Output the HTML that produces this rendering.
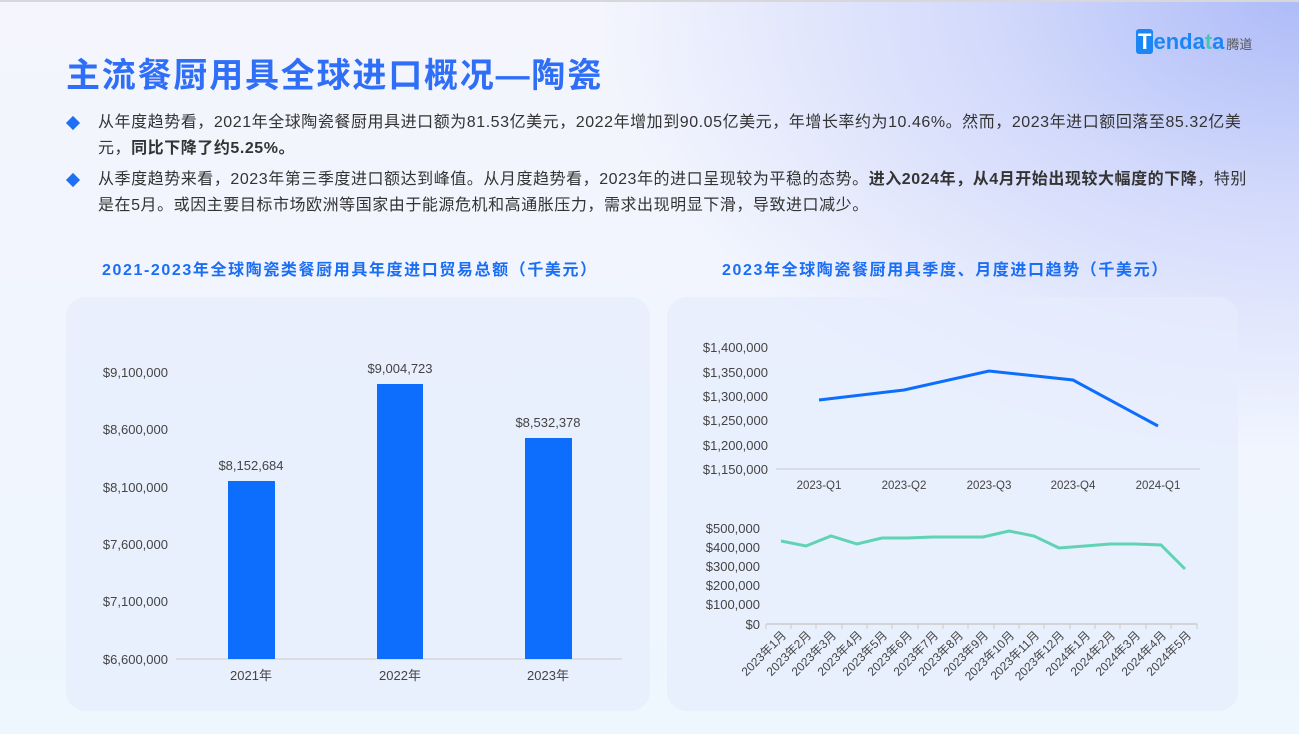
<!DOCTYPE html>
<html><head><meta charset="utf-8"><style>
body{margin:0;width:1299px;height:734px;overflow:hidden;font-family:"Liberation Sans","Noto Sans CJK SC",sans-serif;
background:radial-gradient(ellipse 700px 450px at 1299px 0,#aebcf8 0%,#d3dafb 45%,rgba(240,243,255,0) 100%),linear-gradient(180deg,#f4f5fd,#f0f5fe 60%,#eef7fd);position:relative}
.top{position:absolute;left:0;top:0;width:1299px;height:2px;background:#d8d8dc}
h1{position:absolute;left:66px;top:48px;margin:0;font-size:34px;color:#2f6ef6;font-weight:bold;letter-spacing:1.8px}
.p{position:absolute;left:98px;font-size:16px;color:#333;line-height:26px;width:1150px;letter-spacing:0.55px}
.d{position:absolute;left:68px;width:10px;height:10px;background:#1f6ff5;transform:rotate(45deg)}
.t{position:absolute;font-size:16px;font-weight:bold;color:#1a6ef5;letter-spacing:1.6px}
.panel{position:absolute;top:297px;height:414px;border-radius:20px;background:rgba(230,236,252,0.75)}
</style></head><body>
<div class="top"></div>
<h1>主流餐厨用具全球进口概况—陶瓷</h1>
<div style="position:absolute;left:1136px;top:29px;font-size:22px;font-weight:bold;color:#1d86f5"><span style="background:#1d86f5;color:#fff;border-radius:3px;padding:0 2px">T</span>enda<span style="color:#49c5b6">t</span>a<span style="font-size:13px;color:#555;font-weight:normal;margin-left:2px">腾道</span></div>
<div class="d" style="top:118px"></div>
<div class="p" style="top:110px">从年度趋势看，2021年全球陶瓷餐厨用具进口额为81.53亿美元，2022年增加到90.05亿美元，年增长率约为10.46%。然而，2023年进口额回落至85.32亿美元，<b>同比下降了约5.25%。</b></div>
<div class="d" style="top:175px"></div>
<div class="p" style="top:167px">从季度趋势来看，2023年第三季度进口额达到峰值。从月度趋势看，2023年的进口呈现较为平稳的态势。<b>进入2024年，从4月开始出现较大幅度的下降</b>，特别是在5月。或因主要目标市场欧洲等国家由于能源危机和高通胀压力，需求出现明显下滑，导致进口减少。</div>
<div class="t" style="left:102px;top:256px">2021-2023年全球陶瓷类餐厨用具年度进口贸易总额（千美元）</div>
<div class="t" style="left:722px;top:256px">2023年全球陶瓷餐厨用具季度、月度进口趋势（千美元）</div>
<div class="panel" style="left:66px;width:584px"></div>
<div class="panel" style="left:667px;width:571px"></div>
<svg width="1299" height="734" style="position:absolute;left:0;top:0" font-family="Liberation Sans,Noto Sans CJK SC,sans-serif" font-size="13" fill="#444">
<g text-anchor="end">
<text x="168" y="377">$9,100,000</text><text x="168" y="434">$8,600,000</text><text x="168" y="492">$8,100,000</text><text x="168" y="549">$7,600,000</text><text x="168" y="606">$7,100,000</text><text x="168" y="664">$6,600,000</text>
</g>
<line x1="176" y1="659" x2="622" y2="659" stroke="#ccc"/>
<rect x="228" y="481" width="47" height="178" fill="#0d6efd"/>
<rect x="377" y="384" width="46" height="275" fill="#0d6efd"/>
<rect x="525" y="438" width="47" height="221" fill="#0d6efd"/>
<g text-anchor="middle">
<text x="251" y="470">$8,152,684</text><text x="400" y="373">$9,004,723</text><text x="548" y="427">$8,532,378</text>
<text x="251" y="680">2021年</text><text x="400" y="680">2022年</text><text x="548" y="680">2023年</text>
</g>
<g text-anchor="end">
<text x="768" y="352">$1,400,000</text><text x="768" y="377">$1,350,000</text><text x="768" y="401">$1,300,000</text><text x="768" y="425">$1,250,000</text><text x="768" y="450">$1,200,000</text><text x="768" y="474">$1,150,000</text>
</g>
<line x1="776" y1="469" x2="1200" y2="469" stroke="#ccc"/>
<polyline points="819,400 904,390 989,371 1073,380 1158,426" fill="none" stroke="#0d6efd" stroke-width="3"/>
<g text-anchor="middle" font-size="11.5">
<text x="819" y="489">2023-Q1</text><text x="904" y="489">2023-Q2</text><text x="989" y="489">2023-Q3</text><text x="1073" y="489">2023-Q4</text><text x="1158" y="489">2024-Q1</text>
</g>
<g text-anchor="end">
<text x="760" y="533">$500,000</text><text x="760" y="552">$400,000</text><text x="760" y="571">$300,000</text><text x="760" y="590">$200,000</text><text x="760" y="609">$100,000</text><text x="760" y="629">$0</text>
</g>
<line x1="766" y1="624" x2="1197" y2="624" stroke="#ccc" stroke-width="1.5"/>
<g stroke="#ccc">
<line x1="766" y1="624" x2="766" y2="629"/><line x1="791" y1="624" x2="791" y2="629"/><line x1="816" y1="624" x2="816" y2="629"/><line x1="842" y1="624" x2="842" y2="629"/><line x1="867" y1="624" x2="867" y2="629"/><line x1="892" y1="624" x2="892" y2="629"/><line x1="918" y1="624" x2="918" y2="629"/><line x1="943" y1="624" x2="943" y2="629"/><line x1="968" y1="624" x2="968" y2="629"/><line x1="994" y1="624" x2="994" y2="629"/><line x1="1019" y1="624" x2="1019" y2="629"/><line x1="1044" y1="624" x2="1044" y2="629"/><line x1="1070" y1="624" x2="1070" y2="629"/><line x1="1095" y1="624" x2="1095" y2="629"/><line x1="1120" y1="624" x2="1120" y2="629"/><line x1="1146" y1="624" x2="1146" y2="629"/><line x1="1171" y1="624" x2="1171" y2="629"/><line x1="1197" y1="624" x2="1197" y2="629"/>
</g>
<polyline points="781,541 806,546 831,536 857,544 882,538 907,538 933,537 958,537 983,537 1009,531 1034,536 1059,548 1085,546 1110,544 1135,544 1161,545 1185,569" fill="none" stroke="#5fd3b4" stroke-width="3"/>
<g font-size="12" text-anchor="end">
<text transform="translate(787,636) rotate(-45)">2023年1月</text><text transform="translate(812,636) rotate(-45)">2023年2月</text><text transform="translate(837,636) rotate(-45)">2023年3月</text><text transform="translate(863,636) rotate(-45)">2023年4月</text><text transform="translate(888,636) rotate(-45)">2023年5月</text><text transform="translate(913,636) rotate(-45)">2023年6月</text><text transform="translate(939,636) rotate(-45)">2023年7月</text><text transform="translate(964,636) rotate(-45)">2023年8月</text><text transform="translate(989,636) rotate(-45)">2023年9月</text><text transform="translate(1015,636) rotate(-45)">2023年10月</text><text transform="translate(1040,636) rotate(-45)">2023年11月</text><text transform="translate(1065,636) rotate(-45)">2023年12月</text><text transform="translate(1091,636) rotate(-45)">2024年1月</text><text transform="translate(1116,636) rotate(-45)">2024年2月</text><text transform="translate(1141,636) rotate(-45)">2024年3月</text><text transform="translate(1167,636) rotate(-45)">2024年4月</text><text transform="translate(1192,636) rotate(-45)">2024年5月</text>
</g>
</svg>
</body></html>
